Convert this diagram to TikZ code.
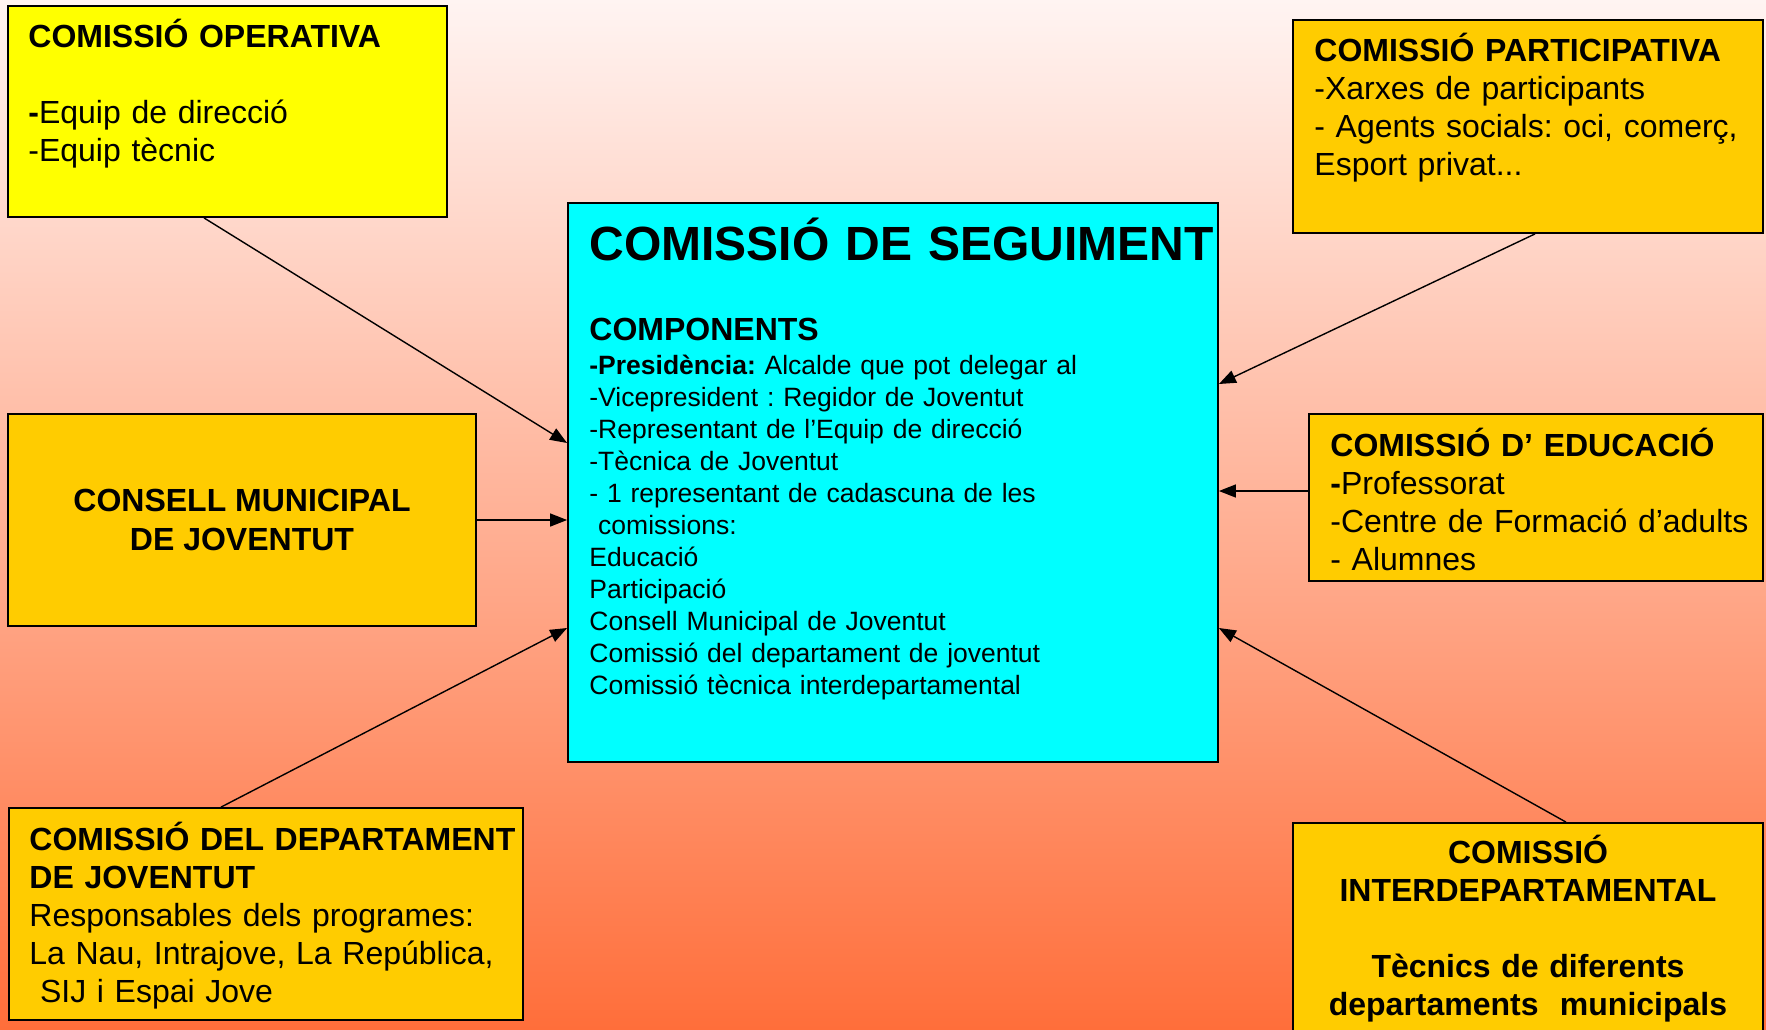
\documentclass[tikz,border=0pt]{standalone}
\usepackage{fontspec}
\setmainfont{Liberation Sans}
\usetikzlibrary{calc,arrows.meta}

\definecolor{fonsdalt}{HTML}{FFF4F2}
\definecolor{fonsmig}{HTML}{FFBAA8}
\definecolor{fonsbaix}{HTML}{FF6E3A}
\definecolor{groc}{HTML}{FFFF00}
\definecolor{daurat}{HTML}{FFCC00}
\definecolor{cian}{HTML}{00FFFF}

\begin{document}
\frenchspacing
\begin{tikzpicture}[x=0.5pt,y=-0.5pt,
    caixa/.style={draw=black, line width=0.9pt, inner sep=0pt},
    txt/.style={anchor=base west, inner sep=0pt, text width=250pt, align=left,
      font=\fontsize{16}{19}\selectfont},
    fletxa/.style={-{Triangle[length=8.5pt,width=6.5pt]}, line width=0.7pt}]

  % Fons
  \useasboundingbox (0,0) rectangle (1766,1029);
  \clip (0,0) rectangle (1766,1029);
  \shade[top color=fonsdalt, middle color=fonsmig, bottom color=fonsbaix]
    (0,0) rectangle (1766,1029);

  % Caixes
  \node[caixa, fill=groc, minimum width=219.5pt, minimum height=105.5pt] (oper) at (227.5,111.5) {};
  \node[caixa, fill=daurat, minimum width=235pt, minimum height=106.5pt] (part) at (1528,126.5) {};
  \node[caixa, fill=cian, minimum width=325pt, minimum height=279.5pt] (seg) at (893,482.5) {};
  \node[caixa, fill=daurat, minimum width=234pt, minimum height=106pt, align=center,
    font=\fontsize{16}{19.5}\selectfont\bfseries] (cons) at (242,520)
    {CONSELL MUNICIPAL\\DE JOVENTUT};
  \node[caixa, fill=daurat, minimum width=227pt, minimum height=83.5pt] (edu) at (1536,497.5) {};
  \node[caixa, fill=daurat, minimum width=257pt, minimum height=106pt] (dep) at (266,914) {};
  \node[caixa, fill=daurat, minimum width=235pt, minimum height=111pt] (inter) at (1528,934) {};

  % Textos
  \node[txt] (opertxt) at (28,47)
    {\textbf{COMISSIÓ OPERATIVA}\\[19pt]\textbf{-}Equip de direcció\\-Equip tècnic};
  \node[txt] (parttxt) at (1314,61)
    {\textbf{COMISSIÓ PARTICIPATIVA}\\-Xarxes de participants\\- Agents socials: oci, comerç,\\Esport privat...};
  \node[txt, text width=330pt, font=\fontsize{24}{28}\selectfont\bfseries] (segtitol) at (589,260)
    {COMISSIÓ DE SEGUIMENT};
  \node[txt, font=\fontsize{13.25}{16}\selectfont] (segtxt) at (589,340)
    {{\fontsize{16}{16}\selectfont\bfseries COMPONENTS}\\[1pt]
     \textbf{-Presidència:} Alcalde que pot delegar al\\
     -Vicepresident : Regidor de Joventut\\
     -Representant de l’Equip de direcció\\
     -Tècnica de Joventut\\
     - 1 representant de cadascuna de les\\
     \ comissions:\\
     Educació\\
     Participació\\
     Consell Municipal de Joventut\\
     Comissió del departament de joventut\\
     Comissió tècnica interdepartamental};
  \node[txt] (edutxt) at (1330,456)
    {\textbf{COMISSIÓ D’ EDUCACIÓ}\\\textbf{-}Professorat\\-Centre de Formació d’adults\\- Alumnes};
  \node[txt] (deptxt) at (29,850)
    {\textbf{COMISSIÓ DEL DEPARTAMENT}\\\textbf{DE JOVENTUT}\\Responsables dels programes:\\La Nau, Intrajove, La República,\\\ SIJ i Espai Jove};
  \node[txt, anchor=base, align=center, font=\fontsize{16}{19}\selectfont\bfseries] (intertxt) at (1528,863)
    {COMISSIÓ\\INTERDEPARTAMENTAL\\[19pt]Tècnics de diferents\\departaments\ \ municipals};

  % Fletxes cap a la comissió de seguiment
  \coordinate (edusort) at ($(edu.west)+(0,-6.5)$);
  \draw[fletxa] ($(oper.south)+(-23.5,0)$) -- ($(seg.west)+(0,-39.5)$);
  \draw[fletxa] (cons.east) -- (cons.east -| seg.west);
  \draw[fletxa] ($(dep.north)+(-45,0)$) -- ($(seg.west)+(0,145.5)$);
  \draw[fletxa] ($(part.south)+(7,0)$) -- ($(seg.east)+(0,-98.5)$);
  \draw[fletxa] (edusort) -- (edusort -| seg.east);
  \draw[fletxa] ($(inter.north)+(38,0)$) -- ($(seg.east)+(0,145.5)$);

\end{tikzpicture}
\end{document}
